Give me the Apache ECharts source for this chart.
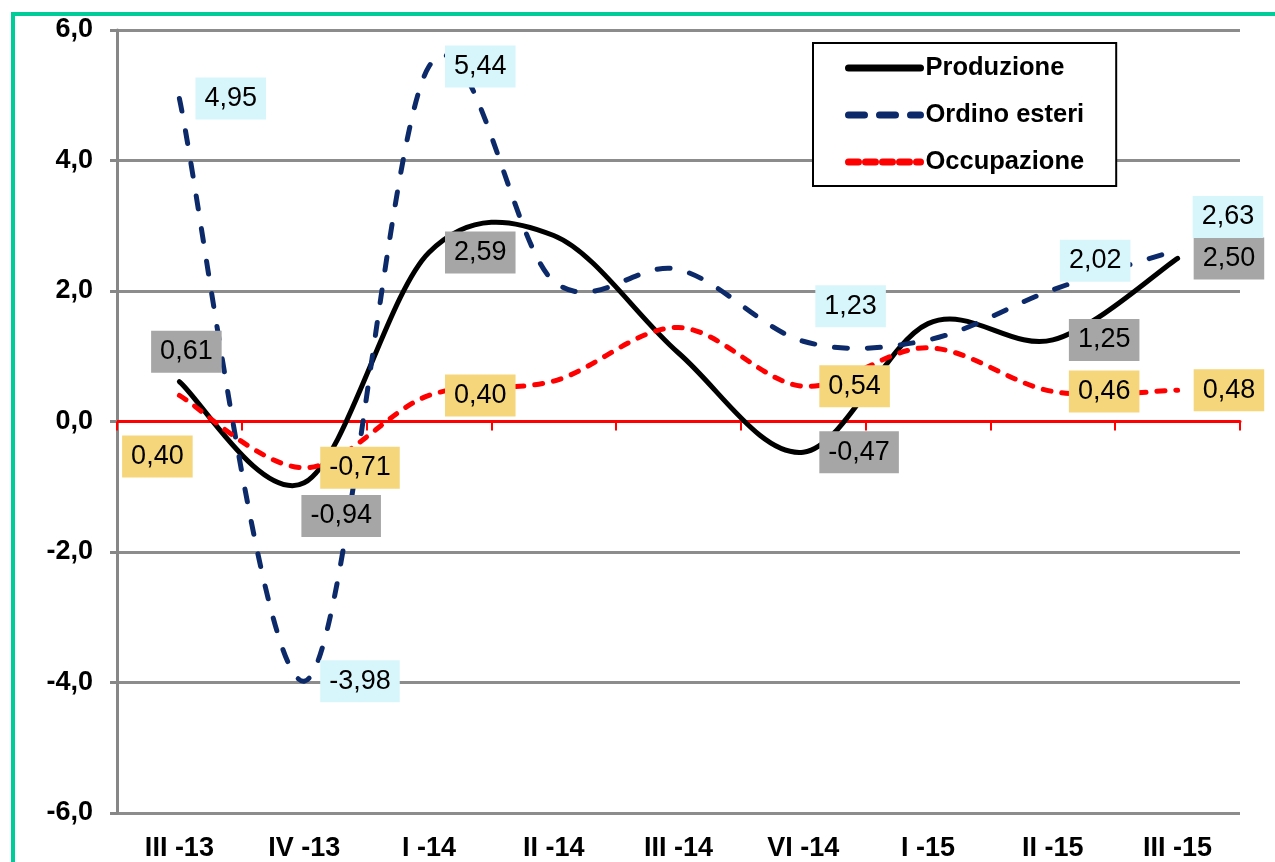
<!DOCTYPE html>
<html>
<head>
<meta charset="utf-8">
<script src="https://cdn.jsdelivr.net/npm/echarts@6/dist/echarts.min.js"></script>
<style>
  html, body { margin: 0; padding: 0; background: #fff; overflow: hidden; }
  #chart { position: absolute; left: 0; top: 0; width: 1275px; height: 862px; }
  #frame { position: absolute; left: 11px; top: 12px; width: 1300px; height: 900px;
           border: 4px solid #00cc99; pointer-events: none; }
</style>
</head>
<body>
<div id="chart"></div>
<div id="frame"></div>
<script>
// ---- data ----
var categories = ['III -13', 'IV -13', 'I -14', 'II -14', 'III -14', 'VI -14', 'I -15', 'II -15', 'III -15'];
var produzione  = [0.61, -0.94, 2.59, 2.85, 1.05, -0.47, 1.50, 1.25, 2.50];
var ordini      = [4.95, -3.98, 5.44, 2.15, 2.33, 1.23, 1.25, 2.02, 2.63];
var occupazione = [0.40, -0.71, 0.40, 0.62, 1.44, 0.54, 1.13, 0.46, 0.48];
var yTicks = [-6, -4, -2, 0, 2, 4, 6];
var seriesNames = ['Produzione', 'Ordino esteri', 'Occupazione'];

// which points carry a data label (by category index)
var labelledProd = [0, 1, 2, 5, 7, 8];
var labelledOrd  = [0, 1, 2, 5, 7, 8];
var labelledOcc  = [0, 1, 2, 5, 7, 8];

function fmt2(v) { return v.toFixed(2).replace('.', ','); }

// label placement overrides (style, not data)
var labelCfgProd = {
  0: { position: 'top', distance: 9, offset: [7, 0] },
  1: { position: 'bottom', distance: 12, offset: [37, 0] }
};
var labelCfgOrd = {
  5: { position: 'right', distance: 12, offset: [0, -35] },
  7: { position: 'right', distance: 7, offset: [0, -29] },
  8: { position: 'right', distance: 15, offset: [0, -33] }
};
var labelCfgOcc = {
  0: { position: 'bottom', distance: 40, offset: [-22, 0] }
};

var FONT = '"Liberation Sans", Arial, sans-serif';

function buildData(values, labelled, cfg, bg) {
  return values.map(function (v, i) {
    if (labelled.indexOf(i) < 0) return v;
    var c = cfg[i] || { position: 'right', distance: 16, offset: [0, 0] };
    return {
      value: v,
      label: {
        show: true,
        position: c.position,
        distance: c.distance,
        offset: c.offset,
        formatter: function (p) { return fmt2(p.value); },
        backgroundColor: bg,
        padding: [6, 9],
        fontSize: 27,
        lineHeight: 30,
        color: '#000',
        fontFamily: FONT
      }
    };
  });
}

// Excel-like smoothed curve (Catmull-Rom -> cubic Bezier) through the
// points positioned by the chart's own axes (api.coord).
function curveRenderer(values, styleObj) {
  return function (params, api) {
    if (params.dataIndex !== 0) return null;
    var pts = values.map(function (v, i) { return api.coord([i, v]); });
    var n = pts.length;
    var d = 'M' + pts[0][0] + ' ' + pts[0][1];
    for (var i = 0; i < n - 1; i++) {
      var p0 = pts[Math.max(i - 1, 0)], p1 = pts[i], p2 = pts[i + 1], p3 = pts[Math.min(i + 2, n - 1)];
      var c1x = p1[0] + (p2[0] - p0[0]) / 6, c1y = p1[1] + (p2[1] - p0[1]) / 6;
      var c2x = p2[0] - (p3[0] - p1[0]) / 6, c2y = p2[1] - (p3[1] - p1[1]) / 6;
      d += ' C' + c1x + ' ' + c1y + ' ' + c2x + ' ' + c2y + ' ' + p2[0] + ' ' + p2[1];
    }
    return {
      type: 'path',
      shape: { pathData: d },
      style: styleObj,
      silent: true
    };
  };
}

function curveSeries(name, values, styleObj, z) {
  return {
    name: name,
    type: 'custom',
    xAxisIndex: 0,
    renderItem: curveRenderer(values, styleObj),
    data: values.map(function (v, i) { return [i, v]; }),
    encode: { x: 0, y: 1 },
    clip: false,
    z: z
  };
}

function labelSeries(name, values, labelled, cfg, bg, color, lineType) {
  return {
    name: name,
    type: 'line',
    xAxisIndex: 0,
    smooth: 0.4,
    symbol: 'circle',
    symbolSize: 0.1,
    showSymbol: true,
    itemStyle: { color: color },
    lineStyle: { color: color, width: 5, type: lineType, opacity: 0 },
    data: buildData(values, labelled, cfg, bg),
    z: 10
  };
}

var chart = echarts.init(document.getElementById('chart'), null, { renderer: 'canvas' });

var option = {
  backgroundColor: 'transparent',
  animation: false,
  grid: { left: 117, right: 35, top: 30, bottom: 49, containLabel: false },
  legend: {
    orient: 'vertical',
    left: 813,
    top: 43,
    padding: [10, 32, 9, 32],
    itemWidth: 72,
    itemHeight: 14,
    itemGap: 17,
    itemTextGap: 4,
    borderColor: '#000',
    borderWidth: 2,
    backgroundColor: '#fff',
    itemStyle: { opacity: 0 },
    lineStyle: { width: 7, opacity: 1, cap: 'round' },
    data: seriesNames,
    textStyle: {
      fontSize: 25.5,
      lineHeight: 30,
      fontWeight: 'bold',
      color: '#000',
      fontFamily: FONT
    }
  },
  xAxis: [
    {
      type: 'category',
      data: categories,
      position: 'bottom',
      boundaryGap: true,
      axisLine: { show: false, onZero: false },
      axisTick: { show: false },
      splitLine: { show: false },
      axisLabel: {
        margin: 22,
        fontSize: 27,
        fontWeight: 'bold',
        color: '#000',
        fontFamily: FONT
      }
    },
    {
      type: 'category',
      data: categories,
      position: 'top',
      boundaryGap: true,
      axisLine: { show: true, onZero: true, lineStyle: { color: '#ff0000', width: 3 } },
      axisTick: { show: true, inside: true, length: 9, lineStyle: { color: '#ff0000', width: 2 } },
      axisLabel: { show: false },
      splitLine: { show: false }
    }
  ],
  yAxis: {
    type: 'value',
    min: -6,
    max: 6,
    interval: 2,
    axisLine: { show: true, lineStyle: { color: '#878787', width: 3 } },
    axisTick: { show: true, length: 7, lineStyle: { color: '#878787', width: 3 } },
    splitLine: { show: true, lineStyle: { color: '#8c8c8c', width: 3 } },
    axisLabel: {
      margin: 24,
      fontSize: 27,
      fontWeight: 'bold',
      color: '#000',
      fontFamily: FONT,
      formatter: function (v) { return yTicks.indexOf(v) >= 0 ? v.toFixed(1).replace('.', ',') : ''; }
    }
  },
  series: [
    curveSeries('curve-prod', produzione,
      { stroke: '#000', lineWidth: 5, fill: null, lineJoin: 'round', lineCap: 'round' }, 2),
    curveSeries('curve-ord', ordini,
      { stroke: '#0c2a6a', lineWidth: 5, fill: null, lineDash: [13, 20], lineCap: 'round' }, 3),
    curveSeries('curve-occ', occupazione,
      { stroke: '#ff0000', lineWidth: 5, fill: null, lineDash: [8, 11], lineCap: 'round' }, 4),
    labelSeries(seriesNames[0], produzione, labelledProd, labelCfgProd, '#a6a6a6', '#000', 'solid'),
    labelSeries(seriesNames[1], ordini, labelledOrd, labelCfgOrd, '#d7f6fb', '#0c2a6a', [16, 15]),
    labelSeries(seriesNames[2], occupazione, labelledOcc, labelCfgOcc, '#f5d67b', '#ff0000', [10, 7])
  ]
};

chart.setOption(option);
</script>
</body>
</html>
